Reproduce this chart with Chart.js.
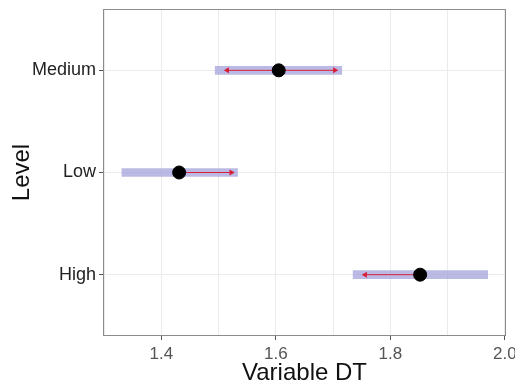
<!DOCTYPE html>
<html>
<head>
<meta charset="utf-8">
<script src="https://cdn.jsdelivr.net/npm/chart.js@4"></script>
<style>
  html, body { margin: 0; padding: 0; background: #fff; }
  #wrap { width: 515px; height: 386px; }
</style>
</head>
<body>
<div id="wrap"><canvas id="chart" width="515" height="386"></canvas></div>
<script>
// data
const levels = ['Medium', 'Low', 'High'];
const ciLow = [1.494, 1.331, 1.735];
const ciHigh = [1.715, 1.533, 1.970];
const means = [1.605, 1.431, 1.852];
const arrowLeft = [1.515, null, 1.756];
const arrowRight = [1.703, 1.522, null];
const xTicks = [1.3, 1.4, 1.5, 1.6, 1.7, 1.8, 1.9, 2.0];
const xLabels = ['', '1.4', '', '1.6', '', '1.8', '', '2.0'];

const FONT = '"Liberation Sans", Arial, sans-serif';
const RED = '#d8203a';

// one small line dataset per arrow, head drawn as a rotated triangle point
function arrowDataset(idx, end, rotation) {
    return {
        type: 'line',
        data: [{ x: means[idx], y: idx }, { x: end, y: idx }],
        borderColor: RED,
        backgroundColor: RED,
        borderWidth: 1,
        pointStyle: 'triangle',
        pointRadius: [0, 3.5],
        pointRotation: rotation,
        pointBorderWidth: 0,
        order: 2
    };
}

const arrows = [];
levels.forEach((lvl, i) => {
    if (arrowLeft[i] !== null) arrows.push(arrowDataset(i, arrowLeft[i], -90));
    if (arrowRight[i] !== null) arrows.push(arrowDataset(i, arrowRight[i], 90));
});

// full panel border like the ggplot theme
const panelBorder = {
    id: 'panelBorder',
    afterDraw(chart) {
        const { ctx, chartArea: a } = chart;
        ctx.save();
        ctx.strokeStyle = '#8c8c8c';
        ctx.lineWidth = 1;
        ctx.strokeRect(a.left + 0.5, a.top + 0.5, a.right - a.left - 1, a.bottom - a.top - 1);
        ctx.restore();
    }
};

new Chart(document.getElementById('chart'), {
    type: 'bar',
    data: {
        datasets: [
            {
                data: levels.map((l, i) => ({ x: [ciLow[i], ciHigh[i]], y: i })),
                backgroundColor: 'rgba(160,160,218,0.72)',
                borderWidth: 0,
                barThickness: 8,
                order: 3
            },
            ...arrows,
            {
                type: 'scatter',
                data: levels.map((l, i) => ({ x: means[i], y: i })),
                backgroundColor: '#000',
                borderColor: '#000',
                pointRadius: 6.5,
                order: 1
            }
        ]
    },
    options: {
        indexAxis: 'y',
        responsive: false,
        animation: false,
        layout: { padding: { left: 0, top: 9, right: 9, bottom: 0 } },
        plugins: {
            legend: { display: false },
            tooltip: { enabled: false }
        },
        scales: {
            x: {
                type: 'linear',
                min: 1.298,
                max: 2.002,
                afterBuildTicks: (scale) => {
                    scale.ticks = xTicks.map(v => ({ value: v }));
                },
                afterFit: (scale) => {
                    scale.height = 50;
                    scale.paddingLeft = 0;
                    scale.paddingRight = 0;
                },
                grid: {
                    color: '#ebebeb',
                    lineWidth: 1,
                    tickLength: 4,
                    tickColor: (ctx) => (xLabels[ctx.index] ? '#555' : 'rgba(0,0,0,0)')
                },
                border: { display: false },
                ticks: {
                    autoSkip: false,
                    maxRotation: 0,
                    padding: 4,
                    color: '#555',
                    font: { family: FONT, size: 17 },
                    callback: (v, i) => xLabels[i]
                },
                title: {
                    display: true,
                    text: 'Variable DT',
                    color: '#111',
                    font: { family: FONT, size: 24 },
                    padding: { top: 0, bottom: -2 }
                }
            },
            y: {
                type: 'linear',
                min: -0.6,
                max: 2.6,
                reverse: true,
                offset: false,
                afterBuildTicks: (scale) => {
                    scale.ticks = levels.map((l, i) => ({ value: i }));
                },
                afterFit: (scale) => {
                    scale.width = 103;
                    scale.paddingTop = 0;
                    scale.paddingBottom = 0;
                },
                grid: {
                    offset: false,
                    color: '#ebebeb',
                    lineWidth: 1,
                    tickLength: 4,
                    tickColor: '#555'
                },
                border: { display: false },
                ticks: {
                    padding: 3,
                    color: '#222',
                    font: { family: FONT, size: 18 },
                    callback: (v) => levels[v]
                },
                title: {
                    display: true,
                    text: 'Level',
                    color: '#111',
                    font: { family: FONT, size: 24 },
                    padding: { top: 8, bottom: 0 }
                }
            }
        }
    },
    plugins: [panelBorder]
});
</script>
</body>
</html>
